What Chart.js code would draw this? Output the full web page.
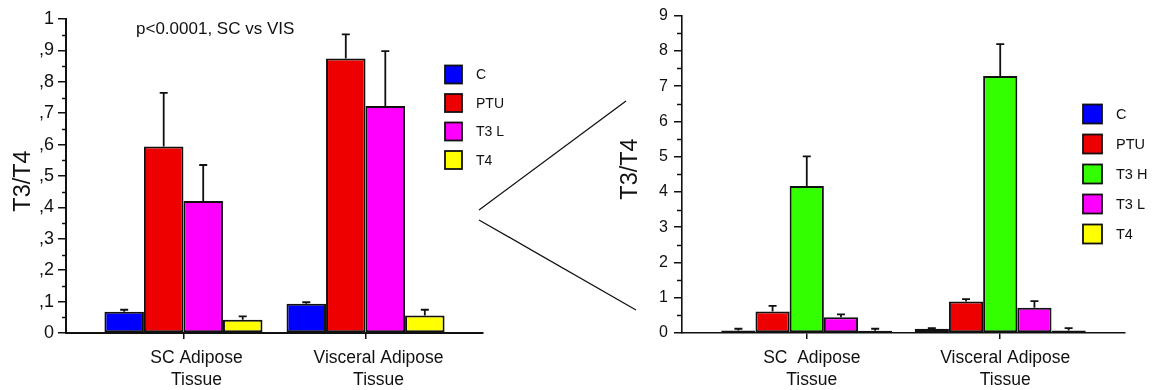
<!DOCTYPE html>
<html><head><meta charset="utf-8">
<script src="https://cdn.jsdelivr.net/npm/chart.js@4.4.0/dist/chart.umd.min.js"></script>
<style>
html,body{margin:0;padding:0;background:#fff;width:1153px;height:390px;overflow:hidden}
#cl{position:absolute;left:0;top:0}
#cr{position:absolute;left:560px;top:0}
#conn{position:absolute;left:0;top:0;pointer-events:none}
</style></head><body>
<canvas id="cl" width="560" height="390"></canvas>
<canvas id="cr" width="593" height="390"></canvas>
<svg id="conn" width="1153" height="390"><line x1="479" y1="210" x2="626" y2="101" stroke="#111" stroke-width="1.3"/><line x1="479" y1="220" x2="636" y2="310" stroke="#111" stroke-width="1.3"/></svg>
<script>
// ---- data ----
const categoriesLeft = [['SC Adipose', 'Tissue'], ['Visceral Adipose', 'Tissue']];
const categoriesRight = [['SC  Adipose', 'Tissue'], ['Visceral Adipose', 'Tissue']];
const yTicksLeft = ['0', ',1', ',2', ',3', ',4', ',5', ',6', ',7', ',8', ',9', '1'];
const yTicksRight = ['0', '1', '2', '3', '4', '5', '6', '7', '8', '9'];
const yTitle = 'T3/T4';
const noteText = 'p<0.0001, SC vs VIS';

const leftC = [0.068, 0.093];     const leftCErr = [0.006, 0.005];
const leftPTU = [0.594, 0.874];   const leftPTUErr = [0.171, 0.077];
const leftT3L = [0.42, 0.723];    const leftT3LErr = [0.115, 0.175];
const leftT4 = [0.042, 0.056];    const leftT4Err = [0.011, 0.018];

const rightC = [0.07, 0.12];      const rightCErr = [0.05, 0.02];
const rightPTU = [0.61, 0.89];    const rightPTUErr = [0.16, 0.07];
const rightT3H = [4.17, 7.29];    const rightT3HErr = [0.84, 0.90];
const rightT3L = [0.45, 0.715];   const rightT3LErr = [0.08, 0.19];
const rightT4 = [0.065, 0.07];    const rightT4Err = [0.055, 0.07];

const COL = {C:'#0000ff', PTU:'#ee0000', T3H:'#33ff00', T3L:'#ff00ff', T4:'#ffff00'};
const FONT = '"Liberation Sans", Arial, Helvetica, sans-serif';
Chart.defaults.font.family = FONT;
Chart.defaults.color = '#111';

function ds(label, vals, errs, color) {
  return {label, data: vals.map((v, i) => ({x: i, y: v})), errors: errs,
    backgroundColor: color, borderColor: '#111', borderWidth: 2, borderSkipped: false,
    barPercentage: 1, categoryPercentage: 0.87};
}

const errPlugin = {
  id: 'errbars',
  afterDatasetsDraw(chart, args, o) {
    const ctx = chart.ctx, ys = chart.scales.y;
    chart.data.datasets.forEach((d, di) => {
      chart.getDatasetMeta(di).data.forEach((bar, i) => {
        const tip = ys.getPixelForValue(d.data[i].y + d.errors[i]);
        ctx.save(); ctx.strokeStyle = '#111'; ctx.lineWidth = o.lw;
        ctx.beginPath();
        ctx.moveTo(bar.x, bar.y); ctx.lineTo(bar.x, tip);
        ctx.moveTo(bar.x - o.cap / 2, tip); ctx.lineTo(bar.x + o.cap / 2, tip);
        ctx.stroke(); ctx.restore();
      });
    });
  }
};
const extrasPlugin = {
  id: 'extras',
  afterDraw(chart, args, o) {
    const ctx = chart.ctx, ys = chart.scales.y, left = chart.chartArea.left;
    ctx.save();
    // minor ticks
    ctx.strokeStyle = '#111'; ctx.lineWidth = 1.5;
    for (let v = o.minorStep; v < ys.max; v += o.minorStep * 2) {
      const y = Math.round(ys.getPixelForValue(v)) + 0.5;
      ctx.beginPath(); ctx.moveTo(left - o.minorLen, y); ctx.lineTo(left, y); ctx.stroke();
    }
    // legend
    ctx.font = o.legFont + 'px ' + FONT; ctx.textBaseline = 'middle'; ctx.textAlign = 'left';
    chart.data.datasets.forEach((d, i) => {
      const cy = o.legY + i * o.legSp;
      ctx.fillStyle = d.backgroundColor;
      ctx.fillRect(o.legX, cy - o.legH / 2, o.legW, o.legH);
      ctx.lineWidth = 1.8; ctx.strokeStyle = '#111';
      ctx.strokeRect(o.legX, cy - o.legH / 2, o.legW, o.legH);
      ctx.fillStyle = '#111';
      ctx.fillText(d.label, o.legTX, cy + 1);
    });
    // y-axis title
    ctx.save();
    ctx.translate(o.titleX, o.titleY); ctx.rotate(-Math.PI / 2);
    ctx.font = o.titleFont + 'px ' + FONT; ctx.textAlign = 'center'; ctx.textBaseline = 'alphabetic';
    ctx.fillStyle = '#111'; ctx.fillText(yTitle, 0, 0);
    ctx.restore();
    if (o.note) {
      ctx.font = o.note.size + 'px ' + FONT; ctx.textBaseline = 'middle'; ctx.fillStyle = '#111';
      ctx.fillText(o.note.text, o.note.x, o.note.y);
    }
    ctx.restore();
  }
};

function makeChart(id, datasets, cfg) {
  return new Chart(document.getElementById(id), {
    type: 'bar',
    data: {datasets},
    plugins: [errPlugin, extrasPlugin],
    options: {
      responsive: false, animation: false,
      layout: {padding: cfg.pad},
      plugins: {legend: {display: false}, tooltip: {enabled: false},
        errbars: {lw: 1.8, cap: 8}, extras: cfg.extras},
      scales: {
        x: {
          type: 'linear', min: -0.645, max: 1.645, offset: false,
          grid: {display: true, drawOnChartArea: false, drawTicks: true, tickLength: 6, color: '#111', lineWidth: 1.5, offset: false},
          border: {display: true, color: '#111', width: cfg.axisW},
          afterBuildTicks: s => { s.ticks = [{value: 0}, {value: 1}]; },
          afterFit: s => { s.height = 390 - 333 - cfg.pad.bottom; },
          ticks: {autoSkip: false, maxRotation: 0, padding: 8, labelOffset: cfg.labelOffset,
            font: {size: 17.5, lineHeight: 1.26}, color: '#111',
            callback: (v, i) => cfg.cats[i]}
        },
        y: {
          min: 0, max: cfg.ymax,
          grid: {display: true, drawOnChartArea: false, drawTicks: true, tickLength: 8, color: '#111', lineWidth: 1.5},
          border: {display: true, color: '#111', width: cfg.axisW},
          afterFit: s => { s.width = cfg.yWidth; },
          ticks: {stepSize: cfg.step, padding: cfg.tickPad, font: {size: cfg.tickFont}, color: '#111',
            callback: (v, i) => cfg.yLabels[i]},
          title: {display: false}
        }
      }
    }
  });
}

makeChart('cl', [
  ds('C', leftC, leftCErr, COL.C),
  ds('PTU', leftPTU, leftPTUErr, COL.PTU),
  ds('T3 L', leftT3L, leftT3LErr, COL.T3L),
  ds('T4', leftT4, leftT4Err, COL.T4)
].map(d => Object.assign(d, {categoryPercentage: 0.868})), {
  pad: {left: 0, top: 19, right: 77, bottom: 0},
  cats: categoriesLeft, yLabels: yTicksLeft, ymax: 1, step: 0.1,
  yWidth: 66, tickPad: 4, tickFont: 18, axisW: 2, labelOffset: 13,
  extras: {minorStep: 0.05, minorLen: 4, legX: 445, legY: 74.5, legSp: 28.5, legW: 17, legH: 18, legTX: 476, legFont: 14,
    titleX: 30, titleY: 181, titleFont: 23.5,
    note: {text: noteText, x: 136, y: 29, size: 17}}
});

makeChart('cr', [
  ds('C', rightC, rightCErr, COL.C),
  ds('PTU', rightPTU, rightPTUErr, COL.PTU),
  ds('T3 H', rightT3H, rightT3HErr, COL.T3H),
  ds('T3 L', rightT3L, rightT3LErr, COL.T3L),
  ds('T4', rightT4, rightT4Err, COL.T4)
].map(d => Object.assign(d, {categoryPercentage: 0.884})), {
  pad: {left: 50, top: 15, right: 28, bottom: 0},
  cats: categoriesRight, yLabels: yTicksRight, ymax: 9, step: 1,
  yWidth: 72, tickPad: 6, tickFont: 16, axisW: 1.6, labelOffset: 5,
  extras: {minorStep: 0.5, minorLen: 5, legX: 523, legY: 114, legSp: 30, legW: 19, legH: 19, legTX: 556, legFont: 14.5,
    titleX: 77, titleY: 169, titleFont: 23.5}
});
</script>
</body></html>
